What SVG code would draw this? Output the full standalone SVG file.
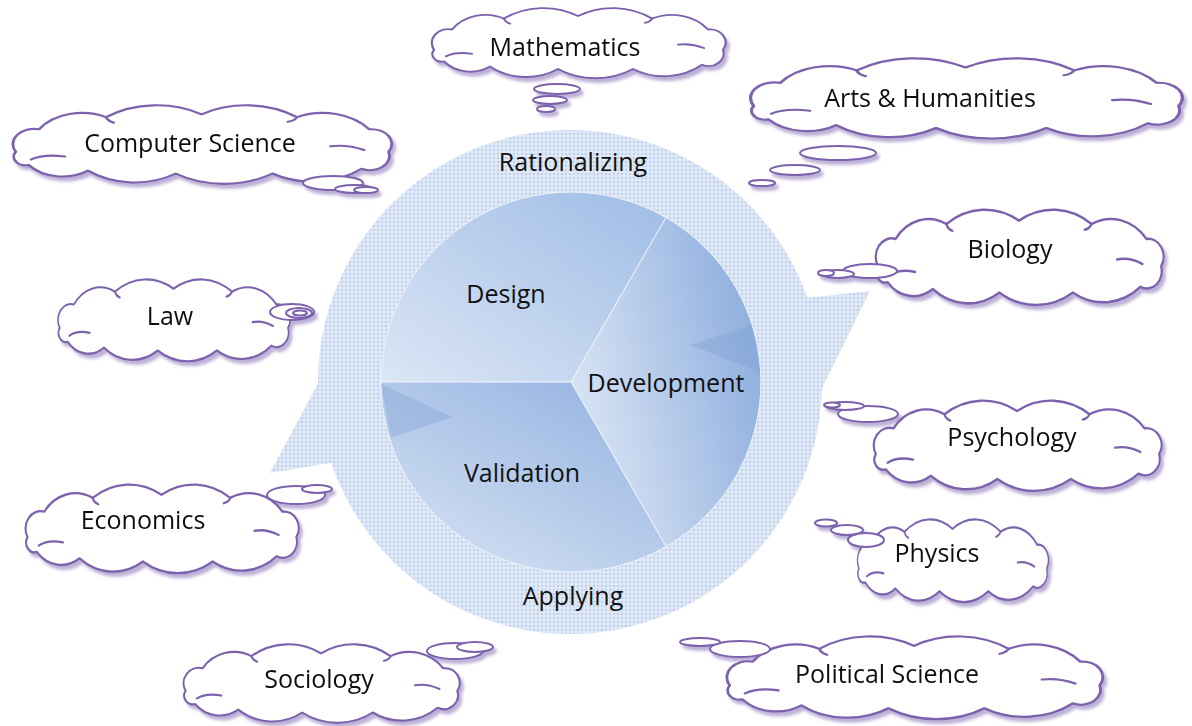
<svg xmlns="http://www.w3.org/2000/svg" xmlns:xlink="http://www.w3.org/1999/xlink" width="1192" height="726" viewBox="0 0 1192 726">
<defs>
<style>
.lbl{font-family:"Open Sans","Noto Sans","Liberation Sans",sans-serif;font-size:25px;fill:#111;text-anchor:middle}
.cl{fill:#fff;stroke:#7b62ad;stroke-width:2.2;vector-effect:non-scaling-stroke;stroke-linejoin:round}
.cr{fill:none;stroke:#7b62ad;stroke-width:2.2;vector-effect:non-scaling-stroke;stroke-linecap:round}
.bb{fill:#fff;stroke:#7b62ad;stroke-width:2}
.sh{filter:url(#shadow)}
</style>
<filter id="shadow" x="-10%" y="-20%" width="125%" height="150%">
<feDropShadow dx="3" dy="4" stdDeviation="1.6" flood-color="#7b62ad" flood-opacity="0.5"/>
</filter>
<pattern id="dots" width="4" height="4" patternUnits="userSpaceOnUse">
<rect width="4" height="4" fill="#e0e9f6"/>
<circle cx="2" cy="2" r="1.2" fill="#bfd1ec"/>
</pattern>
<linearGradient id="gDesign" x1="0" y1="1" x2="1" y2="0">
<stop offset="0" stop-color="#dce6f5"/>
<stop offset="1" stop-color="#9ebce6"/>
</linearGradient>
<linearGradient id="gDev" x1="0" y1="0.7" x2="1" y2="0.3">
<stop offset="0" stop-color="#dde7f5"/>
<stop offset="1" stop-color="#8cadde"/>
</linearGradient>
<linearGradient id="gVal" x1="0.9" y1="0" x2="0.1" y2="1">
<stop offset="0" stop-color="#94b3e1"/>
<stop offset="1" stop-color="#d6e2f3"/>
</linearGradient>
<path id="cloud" d="M6,52 A16.3,16.3 0 0 1 24,28 A40.9,40.9 0 0 1 76,15 A67.8,67.8 0 0 1 150,12 A67.8,67.8 0 0 1 224,15 A46.3,46.3 0 0 1 280,28 A15.6,15.6 0 0 1 295,52 A15.1,15.1 0 0 1 274,70 A59.9,59.9 0 0 1 205,75 A69.4,69.4 0 0 1 130,75 A58.2,58.2 0 0 1 62,72 A34.4,34.4 0 0 1 16,66 A9.2,9.2 0 0 1 6,52 Z"/>
<path id="crease" d="M18,60 Q28,54 44,57 M250,46 Q263,44 276,50 M76,15 Q77,19 82,21 M224,15 Q222,19 217,20"/>
</defs>

<rect width="1192" height="726" fill="#ffffff"/>

<g id="ring">
<circle cx="570" cy="382" r="252" fill="url(#dots)"/>
<polygon points="321,378 270,473 336,462" fill="url(#dots)"/>
<polygon points="805,298 870,291 820,392" fill="url(#dots)"/>
<text class="lbl" x="573" y="171">Rationalizing</text>
<text class="lbl" x="573" y="605">Applying</text>
</g>

<g id="pie">
<path id="design" d="M571,382 L381,382 A190,190 0 0 1 666,217.5 Z" fill="url(#gDesign)" stroke="#eef3fb" stroke-width="1"/>
<path id="development" d="M571,382 L666,217.5 A190,190 0 0 1 666,546.5 Z" fill="url(#gDev)" stroke="#eef3fb" stroke-width="1"/>
<path id="validation" d="M571,382 L666,546.5 A190,190 0 0 1 381,382 Z" fill="url(#gVal)" stroke="#eef3fb" stroke-width="1"/>
<polygon points="381,384 452,417 391,438" fill="#7c9dd2" opacity="0.35"/>
<polygon points="690,345 752,325 760,372" fill="#7c9dd2" opacity="0.35"/>
<text class="lbl" x="506" y="303">Design</text>
<text class="lbl" x="666" y="392">Development</text>
<text class="lbl" x="522" y="482">Validation</text>
</g>

<g id="connectors"></g>

<g id="mathematics" class="sh">
<g transform="translate(428,6) scale(1,0.84)"><use href="#cloud" class="cl"/><use href="#crease" class="cr"/></g>
<ellipse class="bb" cx="557" cy="89" rx="23" ry="5"/>
<ellipse class="bb" cx="550" cy="100" rx="17" ry="4"/>
<ellipse class="bb" cx="546" cy="109" rx="9" ry="3"/>
<text class="lbl" x="565" y="56">Mathematics</text>
</g>

<g id="computer-science" class="sh">
<g transform="translate(8,103) scale(1.29,0.94)"><use href="#cloud" class="cl"/><use href="#crease" class="cr"/></g>
<ellipse class="bb" cx="333" cy="183" rx="30" ry="7"/>
<ellipse class="bb" cx="354" cy="189" rx="19" ry="4"/>
<ellipse class="bb" cx="366" cy="190" rx="12" ry="3"/>
<text class="lbl" x="190" y="152">Computer Science</text>
</g>

<g id="arts-humanities" class="sh">
<g transform="translate(745,56) scale(1.47,0.96)"><use href="#cloud" class="cl"/><use href="#crease" class="cr"/></g>
<ellipse class="bb" cx="838" cy="153" rx="38" ry="7"/>
<ellipse class="bb" cx="795" cy="170" rx="25" ry="5"/>
<ellipse class="bb" cx="762" cy="183" rx="13" ry="3"/>
<text class="lbl" x="930" y="107">Arts &amp; Humanities</text>
</g>

<g id="biology" class="sh">
<g transform="translate(872,207) scale(0.98,1.14)"><use href="#cloud" class="cl"/><use href="#crease" class="cr"/></g>
<ellipse class="bb" cx="870" cy="271" rx="27" ry="7"/>
<ellipse class="bb" cx="838" cy="274" rx="16" ry="4"/>
<ellipse class="bb" cx="826" cy="273" rx="8" ry="3"/>
<text class="lbl" x="1010" y="258">Biology</text>
</g>

<g id="law" class="sh">
<g transform="translate(55,277) scale(0.79,0.98)"><use href="#cloud" class="cl"/><use href="#crease" class="cr"/></g>
<ellipse class="bb" cx="292" cy="312" rx="22" ry="8"/>
<ellipse class="bb" cx="299" cy="313" rx="13" ry="5"/>
<ellipse class="bb" cx="300" cy="313" rx="7" ry="2.5"/>
<text class="lbl" x="170" y="325">Law</text>
</g>

<g id="economics" class="sh">
<g transform="translate(22,482) scale(0.93,1.06)"><use href="#cloud" class="cl"/><use href="#crease" class="cr"/></g>
<ellipse class="bb" cx="296" cy="495" rx="29" ry="9"/>
<ellipse class="bb" cx="317" cy="489" rx="15" ry="4"/>
<text class="lbl" x="143" y="529">Economics</text>
</g>

<g id="psychology" class="sh">
<g transform="translate(870,398) scale(0.98,1.08)"><use href="#cloud" class="cl"/><use href="#crease" class="cr"/></g>
<ellipse class="bb" cx="868" cy="414" rx="30" ry="8"/>
<ellipse class="bb" cx="845" cy="406" rx="19" ry="4"/>
<ellipse class="bb" cx="832" cy="405" rx="8" ry="2.5"/>
<text class="lbl" x="1012" y="446">Psychology</text>
</g>

<g id="physics" class="sh">
<g transform="translate(855,517) scale(0.65,0.99)"><use href="#cloud" class="cl"/><use href="#crease" class="cr"/></g>
<ellipse class="bb" cx="866" cy="540" rx="18" ry="7"/>
<ellipse class="bb" cx="847" cy="530" rx="16" ry="5"/>
<ellipse class="bb" cx="826" cy="523" rx="11" ry="3.5"/>
<text class="lbl" x="937" y="562">Physics</text>
</g>

<g id="sociology" class="sh">
<g transform="translate(180,642) scale(0.94,0.94)"><use href="#cloud" class="cl"/><use href="#crease" class="cr"/></g>
<ellipse class="bb" cx="455" cy="651" rx="28" ry="8"/>
<ellipse class="bb" cx="475" cy="647" rx="18" ry="5"/>
<text class="lbl" x="319" y="688">Sociology</text>
</g>

<g id="political-science" class="sh">
<g transform="translate(722,634) scale(1.28,0.99)"><use href="#cloud" class="cl"/><use href="#crease" class="cr"/></g>
<ellipse class="bb" cx="740" cy="649" rx="30" ry="8"/>
<ellipse class="bb" cx="700" cy="642" rx="20" ry="4"/>
<text class="lbl" x="887" y="683">Political Science</text>
</g>
</svg>
